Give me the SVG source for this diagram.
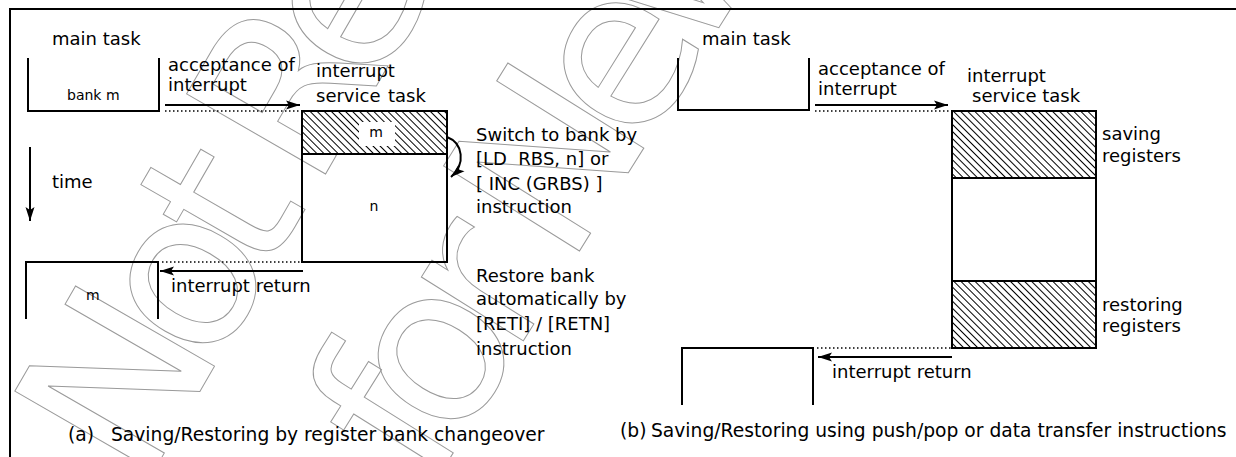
<svg xmlns="http://www.w3.org/2000/svg" width="1236" height="457" viewBox="0 0 1236 457">
  <style>
    text { font-family: "DejaVu Sans", "Liberation Sans", sans-serif; font-size: 18px; fill: #000; }
    .sm { font-size: 14px; }
    .cap { font-size: 18.7px; }
    .mid { text-anchor: middle; }
    .ln { stroke: #000; stroke-width: 2; fill: none; }
    .dot { stroke: #000; stroke-width: 1.5; stroke-dasharray: 1.5 2.5; fill: none; }
    .arr { stroke: #000; stroke-width: 2; fill: none; marker-end: url(#ah); }
    .wm { font-family: "DejaVu Sans", sans-serif; font-size: 220px; letter-spacing: -28px; fill: none; stroke: #9a9a9a; stroke-width: 1; }
  </style>
  <defs>
    <pattern id="hatch" patternUnits="userSpaceOnUse" width="5" height="5" patternTransform="rotate(-45)">
      <rect width="5" height="5" fill="#fff"/>
      <line x1="0.5" y1="0" x2="0.5" y2="5" stroke="#000" stroke-width="1"/>
    </pattern>
    <marker id="ah" markerUnits="userSpaceOnUse" markerWidth="15" markerHeight="10" refX="14" refY="5" orient="auto">
      <path d="M0,0.5 L14,5 L0,9.5 L3,5 Z" fill="#000"/>
    </marker>
  </defs>

  <rect width="1236" height="457" fill="#fff"/>

  <!-- watermark -->
  <g id="watermark">
    <text class="wm" transform="translate(143,490) rotate(-60)">Not Recommended</text>
    <text class="wm" transform="translate(430,490) rotate(-58)">for New Design</text>
  </g>

  <!-- frame -->
  <path id="frame" class="ln" d="M10,457 V9 H1236"/>

  <!-- ===== (a) ===== -->
  <g id="a-main-task">
    <text x="52" y="45">main task</text>
    <path class="ln" d="M28,58 V111 H159 V58"/>
    <text class="sm" x="67" y="100">bank m</text>
  </g>

  <g id="a-isr">
    <text x="316" y="77">interrupt</text>
    <text x="316" y="102">service</text>
    <text x="388" y="102">task</text>
    <rect x="302" y="111" width="145" height="43" fill="url(#hatch)"/>
    <rect x="359" y="122" width="36" height="24" fill="#fff"/>
    <text class="sm mid" x="376" y="137">m</text>
    <rect class="ln" x="302" y="111" width="145" height="151"/>
    <line class="ln" x1="302" y1="154" x2="447" y2="154"/>
    <text class="sm mid" x="374" y="211">n</text>
  </g>

  <g id="a-return-task">
    <path class="ln" d="M26,319 V262 H158 V319"/>
    <text class="sm" x="86" y="300">m</text>
  </g>

  <g id="a-time">
    <text x="52" y="188">time</text>
  </g>

  <g id="a-switch-note">
    <text x="476" y="141">Switch to bank by</text>
    <text x="476" y="165" xml:space="preserve">[LD  RBS, n] or</text>
    <text x="476" y="190">[ INC (GRBS) ]</text>
    <text x="476" y="213">instruction</text>
  </g>

  <g id="a-restore-note">
    <text x="476" y="282">Restore bank</text>
    <text x="476" y="305">automatically by</text>
    <text x="476" y="330">[RETI] / [RETN]</text>
    <text x="476" y="355">instruction</text>
  </g>

  <g id="a-caption">
    <text class="cap" x="68" y="441">(a)</text>
    <text class="cap" x="111" y="441">Saving/Restoring by register bank changeover</text>
  </g>

  <!-- ===== (b) ===== -->
  <g id="b-main-task">
    <text x="702" y="45">main task</text>
    <path class="ln" d="M678,58 V110 H809 V58"/>
  </g>

  <g id="b-isr">
    <text x="967" y="82">interrupt</text>
    <text x="972" y="102">service task</text>
    <rect x="952" y="111" width="144" height="67" fill="url(#hatch)"/>
    <rect x="952" y="281" width="144" height="67" fill="url(#hatch)"/>
    <rect class="ln" x="952" y="111" width="144" height="237"/>
    <line class="ln" x1="952" y1="178" x2="1096" y2="178"/>
    <line class="ln" x1="952" y1="281" x2="1096" y2="281"/>
  </g>

  <g id="b-saving-label">
    <text x="1102" y="140">saving</text>
    <text x="1102" y="162">registers</text>
  </g>
  <g id="b-restoring-label">
    <text x="1102" y="311">restoring</text>
    <text x="1102" y="332">registers</text>
  </g>

  <g id="b-return-task">
    <path class="ln" d="M682,405 V348 H813 V405"/>
  </g>

  <g id="b-caption">
    <text class="cap" x="620" y="437">(b)</text>
    <text class="cap" x="651" y="437">Saving/Restoring using push/pop or data transfer instructions</text>
  </g>

  <!-- ===== connectors ===== -->
  <g id="connectors">
    <!-- (a) -->
    <path class="arr" d="M165,105 H300"/>
    <path class="dot" d="M165,111 H301"/>
    <text x="168" y="71">acceptance of</text>
    <text x="168" y="91">interrupt</text>
    <path class="arr" d="M30,147 V221"/>
    <path class="arr" d="M447,137 C463,143 466,164 451,177"/>
    <path class="dot" d="M162,262 H302"/>
    <path class="arr" d="M303,271 H160"/>
    <text x="171" y="292">interrupt return</text>
    <!-- (b) -->
    <path class="arr" d="M815,105 H948"/>
    <path class="dot" d="M815,111 H951"/>
    <text x="818" y="75">acceptance of</text>
    <text x="818" y="95">interrupt</text>
    <path class="dot" d="M817,348 H952"/>
    <path class="arr" d="M952,357 H818"/>
    <text x="832" y="378">interrupt return</text>
  </g>
</svg>
